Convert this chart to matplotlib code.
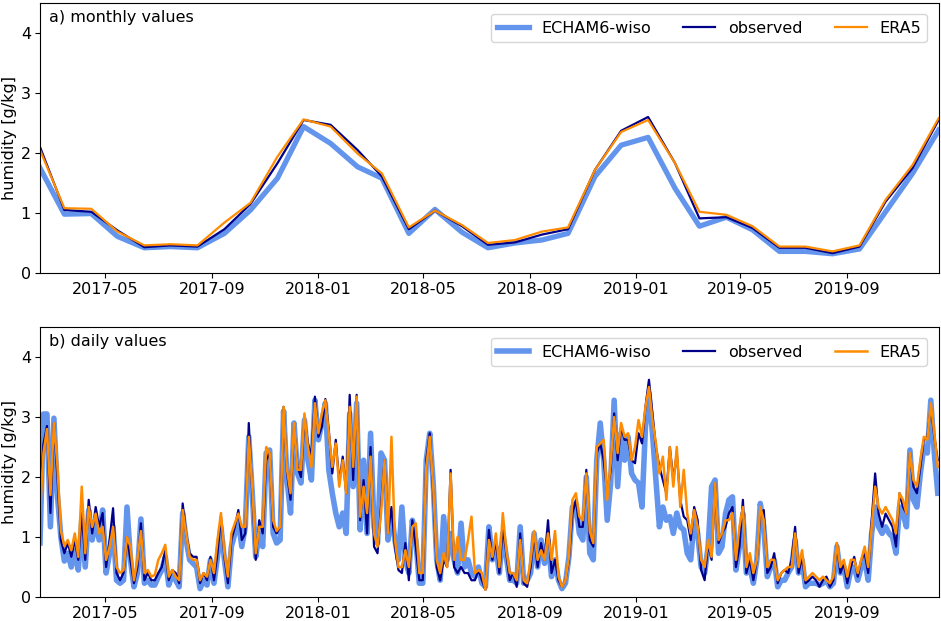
import matplotlib
matplotlib.use("Agg")
import matplotlib.pyplot as plt
import pandas as pd
import numpy as np

# ---------------- monthly data (mid-month) ----------------
month_start = "2017-02-15"
echam_monthly = [1.75, 0.98, 0.99, 0.61, 0.42, 0.44, 0.42, 0.66, 1.05, 1.58, 2.44, 2.16,
                 1.77, 1.58, 0.66, 1.06, 0.68, 0.42, 0.50, 0.55, 0.66, 1.61, 2.13, 2.26,
                 1.41, 0.78, 0.93, 0.72, 0.36, 0.36, 0.32, 0.40, 1.02, 1.66, 2.38]
obs_monthly = [2.10, 1.05, 1.02, 0.71, 0.43, 0.46, 0.44, 0.73, 1.15, 1.83, 2.55, 2.47,
               2.05, 1.61, 0.73, 1.04, 0.78, 0.47, 0.51, 0.64, 0.73, 1.72, 2.37, 2.60,
               1.83, 0.91, 0.93, 0.75, 0.42, 0.42, 0.33, 0.44, 1.19, 1.75, 2.55]
era5_monthly = [2.05, 1.08, 1.07, 0.69, 0.46, 0.48, 0.46, 0.84, 1.17, 1.94, 2.56, 2.44,
                1.99, 1.66, 0.76, 1.04, 0.80, 0.50, 0.55, 0.69, 0.76, 1.72, 2.35, 2.55,
                1.83, 1.02, 0.97, 0.78, 0.44, 0.44, 0.36, 0.46, 1.22, 1.80, 2.58]

# ---------------- daily data (sampled every 4 days) ----------------
daily_start = "2017-02-15"
obs_daily = [
    1.6, 2.55, 2.85, 1.4, 2.9, 2.0, 0.95, 0.73, 0.9, 0.67, 0.95, 0.62, 1.4, 0.62, 1.62, 1.06,
    1.5, 1.17, 1.4, 0.5, 0.95, 1.48, 0.4, 0.28, 0.4, 1.0, 0.62, 0.23, 0.5, 1.23, 0.28, 0.4,
    0.28, 0.28, 0.4, 0.5, 0.78, 0.28, 0.45, 0.4, 0.23, 1.56, 1.06, 0.73, 0.67, 0.67, 0.23, 0.4,
    0.28, 0.67, 0.28, 0.73, 1.34, 0.67, 0.23, 0.95, 1.17, 1.45, 0.95, 1.06, 2.9, 1.73, 0.62, 1.28,
    1.06, 2.28,
    2.4, 1.17, 1.06, 1.17, 3.17, 2.06, 1.62, 2.84, 2.17, 2.0, 3.0, 2.56, 2.34, 3.34, 2.67, 2.84,
    3.3, 2.78, 2.06, 2.62, 1.9, 2.34, 1.73, 3.37, 1.95, 3.37, 1.28, 1.95, 1.06, 2.5, 0.84, 0.73,
    1.5, 2.28, 1.06, 1.5, 0.84, 0.45, 0.4, 0.9, 0.28, 1.28, 0.84, 0.28, 0.28, 2.28, 2.73, 1.73,
    0.5, 0.28, 0.62, 0.5, 2.12, 0.5, 0.4, 0.5, 0.4, 0.4, 0.28, 0.28, 0.45, 0.28, 0.12, 1.12,
    0.62, 0.95, 0.4, 1.17, 0.73, 0.28, 0.4, 0.17, 1.06, 0.23, 0.17, 0.5, 1.06, 0.5, 0.9, 0.62,
    1.28, 0.4, 0.62, 0.28, 0.17, 0.28, 0.62, 1.39, 1.62, 1.17, 1.17, 2.12, 0.95, 0.84, 2.4, 2.56,
    2.28, 1.73, 2.12, 3.06, 2.28, 2.84, 2.62, 2.62, 2.28, 2.23, 2.73, 2.56, 3.17, 3.62, 3.06, 2.5,
    2.17, 1.95, 1.73, 2.5, 1.95, 2.4, 1.62, 1.34, 1.28, 0.95, 1.5, 1.28, 0.45, 0.28, 0.9, 0.62,
    1.9, 0.9, 1.06, 1.17, 1.4, 1.5, 0.5, 0.84, 1.62, 0.4, 0.62, 0.28, 0.62, 1.39, 1.45, 0.4,
    0.5, 0.73, 0.23, 0.4, 0.45, 0.4, 0.62, 1.17, 0.4, 0.67, 0.23, 0.28, 0.34, 0.28, 0.17, 0.28,
    0.34, 0.17, 0.28, 0.9, 0.4, 0.56, 0.23, 0.5, 0.67, 0.34, 0.62, 0.73, 0.4, 1.28, 2.06, 1.39,
    1.17, 1.39, 1.28, 1.17, 0.84, 1.73, 1.5, 1.39, 2.4, 1.84, 1.73, 2.17, 2.62, 2.67, 3.17, 2.67,
    2.28]
era5_daily = [
    1.4, 2.4, 2.8, 1.7, 2.9, 2.2, 1.1, 0.85, 0.95, 0.78, 1.06, 0.67, 1.84, 0.73, 1.5, 1.17,
    1.39, 1.06, 1.17, 0.62, 0.84, 1.17, 0.5, 0.4, 0.45, 1.0, 0.84, 0.28, 0.62, 1.1, 0.4, 0.45,
    0.34, 0.37, 0.62, 0.73, 0.87, 0.34, 0.45, 0.34, 0.28, 1.45, 1.06, 0.67, 0.62, 0.62, 0.28, 0.4,
    0.34, 0.62, 0.4, 0.95, 1.4, 0.73, 0.34, 1.06, 1.23, 1.39, 1.17, 1.17, 2.67, 1.84, 0.73, 1.17,
    1.17, 2.5,
    2.4, 1.28, 1.1, 1.17, 3.17, 2.12, 1.73, 2.9, 2.12, 2.12, 3.06, 2.5, 2.17, 3.23, 2.73, 3.06,
    3.28, 2.73, 2.17, 2.56, 1.84, 2.28, 1.73, 3.17, 2.17, 3.34, 1.34, 1.84, 1.4, 2.34, 1.06, 0.84,
    1.39, 2.28, 1.06, 2.67, 0.95, 0.5, 0.5, 0.78, 0.5, 1.17, 1.23, 0.4, 0.4, 2.17, 2.67, 1.84,
    0.62, 0.4, 0.73, 0.5, 2.06, 0.62, 1.0, 0.62, 0.62, 0.95, 1.34, 0.4, 0.45, 0.4, 0.12, 0.95,
    0.67, 1.06, 0.5, 1.4, 0.78, 0.4, 0.4, 0.28, 0.95, 0.28, 0.23, 0.62, 1.1, 0.62, 0.78, 0.62,
    1.06, 0.62, 1.1, 0.34, 0.17, 0.28, 0.67, 1.62, 1.73, 1.34, 1.28, 2.06, 1.1, 0.9, 2.5, 2.56,
    2.62, 1.62, 2.23, 3.0, 2.4, 2.9, 2.67, 2.73, 2.28, 2.5, 2.95, 2.67, 3.17, 3.5, 2.95, 2.56,
    2.06, 2.34, 1.62, 2.5, 1.84, 2.5, 1.5, 2.12, 1.39, 1.06, 1.45, 1.17, 0.62, 0.5, 0.95, 0.67,
    1.9, 0.95, 1.06, 1.28, 1.28, 1.4, 0.62, 1.17, 1.5, 0.5, 0.73, 0.4, 0.62, 1.5, 1.28, 0.5,
    0.62, 0.62, 0.28, 0.4, 0.45, 0.5, 0.5, 1.06, 0.5, 0.78, 0.28, 0.34, 0.4, 0.34, 0.28, 0.34,
    0.28, 0.23, 0.34, 0.9, 0.5, 0.62, 0.34, 0.62, 0.62, 0.4, 0.62, 0.84, 0.5, 1.17, 1.84, 1.5,
    1.39, 1.5, 1.39, 1.28, 1.06, 1.73, 1.62, 1.39, 2.4, 1.95, 1.84, 2.28, 2.67, 2.62, 3.23, 2.73,
    2.17]
echam_daily = [
    0.9, 3.05, 3.05, 1.17, 2.98, 1.7, 1.0, 0.6, 0.73, 0.5, 0.78, 0.45, 1.28, 0.5, 1.45, 0.95,
    1.28, 0.95, 1.45, 0.4, 0.73, 1.17, 0.28, 0.23, 0.28, 1.5, 0.62, 0.17, 0.4, 1.3, 0.23, 0.28,
    0.2, 0.2, 0.34, 0.45, 0.67, 0.2, 0.37, 0.28, 0.17, 1.4, 0.95, 0.62, 0.56, 0.5, 0.14, 0.28,
    0.2, 0.62, 0.23, 0.67, 1.17, 0.62, 0.17, 0.84, 1.06, 1.28, 0.84, 1.17, 2.67, 1.73, 0.67, 1.06,
    0.84, 2.4,
    2.45, 1.06, 0.9, 0.95, 3.1, 1.95, 1.4, 2.9, 2.06, 1.9, 2.95, 2.28, 1.95, 3.28, 2.62, 2.9,
    3.23, 2.12, 1.73, 1.4, 1.17, 1.4, 1.06, 3.06, 1.84, 3.23, 1.12, 2.28, 1.06, 2.73, 1.17, 0.9,
    2.4, 2.28, 0.95, 1.4, 0.95, 0.62, 1.5, 0.62, 0.4, 1.28, 0.95, 0.23, 0.23, 2.28, 2.73, 1.9,
    0.62, 0.28, 1.34, 0.62, 1.06, 0.62, 0.4, 1.23, 0.5, 0.62, 0.4, 0.34, 0.5, 0.23, 0.17, 1.17,
    0.62, 0.84, 0.4, 1.06, 0.67, 0.28, 0.28, 0.23, 1.17, 0.23, 0.28, 0.4, 1.06, 0.5, 0.95, 0.56,
    0.95, 0.34, 0.62, 0.28, 0.14, 0.23, 0.67, 1.5, 1.56, 1.06, 0.95, 2.0, 0.73, 0.62, 2.28, 2.9,
    2.28, 1.28, 1.9, 3.28, 1.84, 2.73, 2.28, 2.67, 2.06, 1.95, 1.9, 1.5, 2.84, 3.39, 2.73, 1.95,
    1.17, 1.5, 1.28, 1.34, 1.06, 1.4, 1.17, 1.12, 0.73, 0.62, 1.28, 1.06, 0.5, 0.4, 0.84, 1.84,
    1.95, 0.73, 0.84, 1.39, 1.62, 1.67, 0.45, 0.84, 1.39, 0.4, 0.5, 0.23, 0.62, 1.56, 1.17, 0.34,
    0.5, 0.62, 0.17, 0.28, 0.28, 0.4, 0.5, 0.95, 0.4, 0.62, 0.17, 0.23, 0.23, 0.23, 0.2, 0.23,
    0.28, 0.17, 0.23, 0.84, 0.4, 0.5, 0.17, 0.45, 0.5, 0.28, 0.5, 0.62, 0.28, 1.06, 1.5, 1.17,
    1.06, 1.17, 1.06, 1.0, 0.73, 1.5, 1.39, 1.17, 2.45, 1.62, 1.5, 2.06, 2.5, 2.4, 3.28, 2.4,
    1.73]

labels = ["ECHAM6-wiso", "observed", "ERA5"]
colors = ["#6495ED", "#00008B", "#FF8C00"]
yticks = [0, 1, 2, 3, 4]

n = min(len(obs_daily), len(era5_daily), len(echam_daily))
obs_daily, era5_daily, echam_daily = obs_daily[:n], era5_daily[:n], echam_daily[:n]

mdates = pd.date_range(month_start, periods=len(obs_monthly), freq=pd.DateOffset(months=1))
ddates = pd.date_range(daily_start, periods=n, freq="4D")

FS = 11.5
fig = plt.figure(figsize=(9.41, 6.21), dpi=100)
ax1 = fig.add_axes([0.0425, 0.5604, 0.955, 0.4348])
ax2 = fig.add_axes([0.0425, 0.0386, 0.955, 0.4348])

ax1.plot(mdates, echam_monthly, color=colors[0], lw=3.8, label=labels[0])
ax1.plot(mdates, obs_monthly, color=colors[1], lw=1.6, label=labels[1])
ax1.plot(mdates, era5_monthly, color=colors[2], lw=1.6, label=labels[2])

ax2.plot(ddates, echam_daily, color=colors[0], lw=4, label=labels[0])
ax2.plot(ddates, obs_daily, color=colors[1], lw=1.6, label=labels[1])
ax2.plot(ddates, era5_daily, color=colors[2], lw=1.8, label=labels[2])

xt = pd.to_datetime(["2017-05-01", "2017-09-01", "2018-01-01", "2018-05-01",
                     "2018-09-01", "2019-01-01", "2019-05-01", "2019-09-01"])
for ax, title in [(ax1, "a) monthly values"), (ax2, "b) daily values")]:
    ax.set_xlim(mdates[0], mdates[-1])
    ax.set_ylim(0, 4.5)
    ax.set_yticks(yticks)
    ax.set_xticks(xt)
    ax.set_xticklabels([d.strftime("%Y-%m") for d in xt])
    ax.tick_params(labelsize=FS, length=3.5, pad=3)
    ax.set_ylabel("humidity [g/kg]", fontsize=FS)
    ax.yaxis.set_label_coords(-0.026, 0.5)
    ax.text(0.01, 0.975, title, transform=ax.transAxes, va="top", ha="left", fontsize=FS)
    ax.legend(loc="upper right", ncol=3, fontsize=FS, borderaxespad=0.7)

fig.savefig("out.png", dpi=100)
